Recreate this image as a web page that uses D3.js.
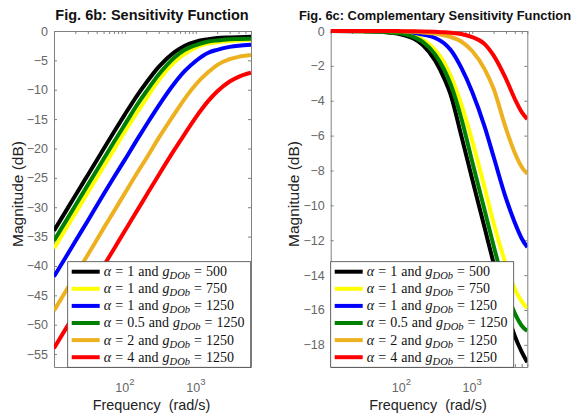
<!DOCTYPE html>
<html>
<head>
<meta charset="utf-8">
<script src="https://cdn.jsdelivr.net/npm/d3@7"></script>
<style>
body { margin: 0; background: #fff; }
svg { display: block; font-family: "Liberation Sans", Arial, sans-serif; }
</style>
</head>
<body>
<div id="chart"></div>
<script>
const width = 581, height = 416;

// frequency grid (rad/s)
const freqS = [10, 15, 20, 30, 50, 70, 100, 150, 200, 300, 500, 700, 1000, 1500, 2000, 3000, 4000, 6000];
const freqT = [10, 30, 50, 70, 100, 150, 200, 300, 400, 500, 700, 1000, 1500, 2000, 3000, 4000, 5000, 6000];

// Fig 6b: sensitivity magnitude (dB)
const sBlack  = [-34.0, -30.5, -28.0, -24.5, -20.1, -17.2, -14.2, -10.9, -8.8, -6.1, -3.6, -2.5, -1.8, -1.4, -1.2, -1.1, -1.05, -1.0];
const sYellow = [-37.0, -33.5, -31.0, -27.5, -23.1, -20.2, -17.1, -13.8, -11.5, -8.4, -5.3, -3.9, -2.8, -2.1, -1.9, -1.7, -1.6, -1.5];
const sBlue   = [-41.8, -38.3, -35.8, -32.3, -27.8, -24.9, -21.9, -18.4, -16.0, -12.7, -8.9, -6.8, -5.1, -3.7, -3.2, -2.7, -2.5, -2.35];
const sGreen  = [-35.7, -32.2, -29.7, -26.2, -21.8, -18.9, -15.9, -12.5, -10.3, -7.4, -4.5, -3.2, -2.4, -1.8, -1.6, -1.4, -1.35, -1.3];
const sOrange = [-47.6, -44.1, -41.6, -38.1, -33.6, -30.7, -27.6, -24.1, -21.7, -18.2, -14.1, -11.5, -9.1, -7.0, -5.8, -4.8, -4.4, -4.1];
const sRed    = [-54.0, -50.5, -48.0, -44.5, -40.0, -37.1, -34.0, -30.5, -28.0, -24.5, -20.2, -17.5, -14.7, -11.9, -10.3, -8.6, -7.8, -7.1];

// Fig 6c: complementary sensitivity magnitude (dB)
const tBlack  = [0, -0.02, -0.05, -0.1, -0.2, -0.45, -0.8, -1.7, -2.7, -3.7, -6.0, -8.5, -11.3, -13.3, -15.9, -17.5, -18.4, -19.0];
const tYellow = [0, -0.01, -0.03, -0.06, -0.1, -0.25, -0.5, -1.1, -1.8, -2.6, -4.2, -6.3, -9.0, -11.0, -13.4, -14.8, -15.5, -15.9];
const tBlue   = [0, 0, -0.01, -0.02, -0.05, -0.1, -0.2, -0.4, -0.7, -1.1, -2.1, -3.5, -5.5, -7.2, -9.6, -11.0, -11.9, -12.4];
const tGreen  = [0, -0.01, -0.04, -0.08, -0.15, -0.35, -0.62, -1.35, -2.2, -3.1, -5.0, -7.5, -10.3, -12.3, -14.9, -16.2, -16.9, -17.2];
const tOrange = [0, 0, 0, -0.01, -0.02, -0.04, -0.08, -0.15, -0.25, -0.35, -0.6, -1.15, -2.2, -3.3, -5.6, -7.0, -7.8, -8.2];
const tRed    = [0, 0, 0, 0, -0.01, -0.02, -0.03, -0.05, -0.07, -0.1, -0.17, -0.35, -0.75, -1.4, -2.75, -3.9, -4.65, -5.05];

// legend entries
const alphas = ['1', '1', '1', '0.5', '2', '4'];
const gains = ['500', '750', '1250', '1250', '1250', '1250'];
const colors = ['#000000', '#ffff00', '#0000ff', '#008000', '#edb120', '#ff0000'];

// ticks
const yTicksS = [0, -5, -10, -15, -20, -25, -30, -35, -40, -45, -50, -55];
const yTicksT = [0, -2, -4, -6, -8, -10, -12, -14, -16, -18];
const xMajor = [100, 1000];
const xMinor = [20, 30, 40, 50, 60, 70, 80, 90, 200, 300, 400, 500, 600, 700, 800, 900, 2000, 3000, 4000, 5000, 6000];
const xDomain = [10, 6000];

const svg = d3.select('#chart').append('svg')
  .attr('width', width).attr('height', height);

const panels = [
  { left: 54, top: 31, w: 197, h: 336, yDomain: [-57.2, 0], yTicks: yTicksS, freq: freqS,
    series: [sBlack, sYellow, sBlue, sGreen, sOrange, sRed],
    title: 'Fig. 6b: Sensitivity Function', titleX: 152, titleSize: 14.5,
    legendX: 67.7, ylabelX: 22.5 },
  { left: 330.7, top: 31, w: 196.6, h: 336, yDomain: [-19.27, 0], yTicks: yTicksT, freq: freqT,
    series: [tBlack, tYellow, tBlue, tGreen, tOrange, tRed],
    title: 'Fig. 6c: Complementary Sensitivity Function', titleX: 435, titleSize: 12.9,
    legendX: 330.7, ylabelX: 298.5 }
];

const axisColor = '#808080';
const tickColor = '#666';

panels.forEach((p, pi) => {
  const g = svg.append('g').attr('transform', `translate(${p.left},${p.top})`);
  const x = d3.scaleLog().domain(xDomain).range([0, p.w]);
  const y = d3.scaleLinear().domain(p.yDomain).range([p.h, 0]);

  // box + ticks (mirrored, inward)
  const allX = [10].concat(xMajor, xMinor);
  const axes = [
    d3.axisBottom(x).tickValues(allX).tickSizeInner(-3).tickSizeOuter(0).tickFormat(''),
    d3.axisTop(x).tickValues(allX).tickSizeInner(-3).tickSizeOuter(0).tickFormat(''),
    d3.axisLeft(y).tickValues(p.yTicks).tickSizeInner(-3).tickSizeOuter(0).tickPadding(6).tickFormat(d3.format('d')),
    d3.axisRight(y).tickValues(p.yTicks).tickSizeInner(-3).tickSizeOuter(0).tickFormat('')
  ];
  const pos = [`translate(0,${p.h})`, 'translate(0,0)', 'translate(0,0)', `translate(${p.w},0)`];
  axes.forEach((ax, i) => {
    const a = g.append('g').attr('transform', pos[i]).call(ax);
    a.selectAll('path').attr('stroke', axisColor);
    a.selectAll('line').attr('stroke', axisColor);
    a.selectAll('text').attr('fill', tickColor).attr('font-size', 12.5)
      .attr('font-family', '"Liberation Sans", Arial, sans-serif');
  });

  // x tick labels 10^n
  xMajor.forEach(v => {
    const t = g.append('text').attr('x', x(v)).attr('y', p.h + 25)
      .attr('text-anchor', 'middle').attr('fill', tickColor).attr('font-size', 12.5);
    t.append('tspan').text('10');
    t.append('tspan').attr('dy', -7).attr('font-size', 9.5).text(String(Math.round(Math.log10(v))));
  });

  // curves
  const clipId = 'clip' + pi;
  g.append('clipPath').attr('id', clipId).append('rect')
    .attr('x', 0).attr('y', -4).attr('width', p.w).attr('height', p.h + 8);
  const line = d3.line().x(d => x(d[0])).y(d => y(d[1])).curve(d3.curveMonotoneX);
  p.series.forEach((vals, i) => {
    g.append('path')
      .datum(p.freq.map((f, j) => [f, vals[j]]))
      .attr('d', line)
      .attr('clip-path', `url(#${clipId})`)
      .attr('fill', 'none')
      .attr('stroke', colors[i])
      .attr('stroke-width', 4)
      .attr('stroke-linejoin', 'round');
  });

  // title
  svg.append('text')
    .attr('x', p.titleX).attr('y', 19.5)
    .attr('text-anchor', 'middle').attr('font-weight', 'bold')
    .attr('font-size', p.titleSize).attr('fill', '#111').text(p.title);

  // axis labels
  svg.append('text')
    .attr('x', p.left + p.w / 2 - 1).attr('y', 410)
    .attr('text-anchor', 'middle').attr('font-size', 14.4).attr('fill', '#222')
    .style('white-space', 'pre')
    .text('Frequency  (rad/s)');
  svg.append('text')
    .attr('transform', `translate(${p.ylabelX},194) rotate(-90)`)
    .attr('text-anchor', 'middle').attr('font-size', 15.5).attr('fill', '#222')
    .text('Magnitude (dB)');

  // legend
  const lg = svg.append('g').attr('transform', `translate(${p.legendX},261.7)`);
  lg.append('rect').attr('width', 183).attr('height', 105.6)
    .attr('fill', '#fff').attr('stroke', '#444').attr('stroke-width', 0.8);
  alphas.forEach((a, i) => {
    const ry = 10 + i * 17.1;
    lg.append('line').attr('x1', 4).attr('x2', 32).attr('y1', ry).attr('y2', ry)
      .attr('stroke', colors[i]).attr('stroke-width', 4);
    const t = lg.append('text').attr('x', 36).attr('y', ry + 4.5)
      .attr('font-family', '"Liberation Serif", "Times New Roman", serif')
      .attr('font-size', 14).attr('fill', '#111')
      .style('white-space', 'pre').style('word-spacing', '0.6px');
    t.append('tspan').attr('font-style', 'italic').text('\u03b1');
    t.append('tspan').text(' = ' + a + ' and ');
    t.append('tspan').attr('font-style', 'italic').text('g');
    t.append('tspan').attr('font-style', 'italic').attr('font-size', 10.5).attr('dy', 3).text('DOb');
    t.append('tspan').attr('dy', -3).text(' = ' + gains[i]);
  });
});
</script>
</body>
</html>
